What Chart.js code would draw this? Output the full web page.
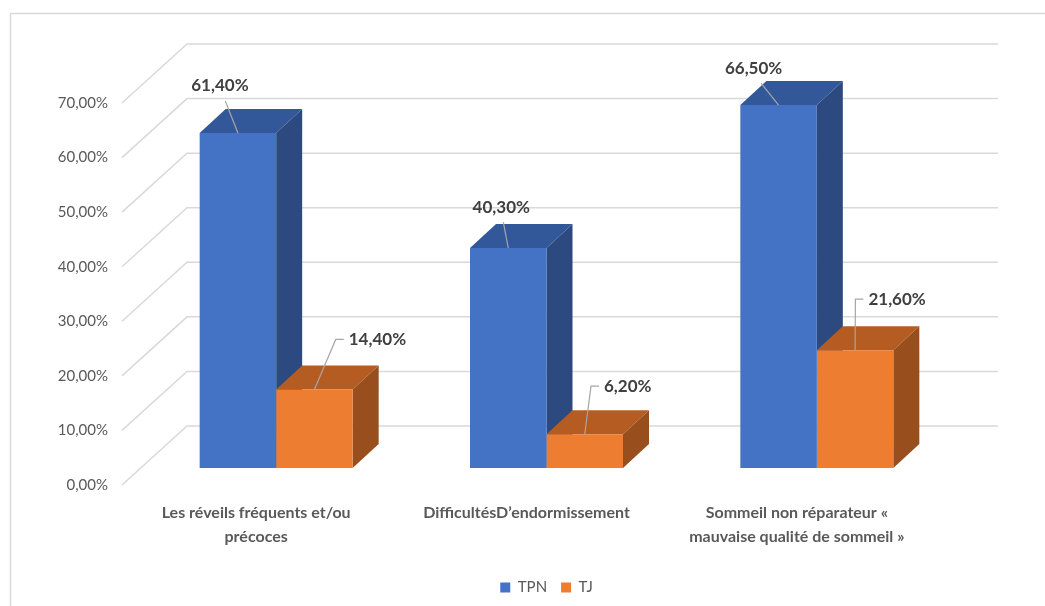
<!DOCTYPE html>
<html>
<head>
<meta charset="utf-8">
<script src="https://cdn.jsdelivr.net/npm/chart.js@4.4.1/dist/chart.umd.min.js"></script>
<style>
  html, body { margin: 0; padding: 0; background: #fff; }
  #wrap { width: 1045px; height: 606px; }
</style>
</head>
<body>
<div id="wrap"><canvas id="chart" width="1045" height="606"></canvas></div>
<script>
// categories and series
var categories = [
  ["Les réveils fréquents et/ou", "précoces"],
  "DifficultésD\u2019endormissement",
  ["Sommeil non réparateur «", "mauvaise qualité de sommeil »"]
];
var seriesNames = ["TPN", "TJ"];
var tpnValues = [61.4, 40.3, 66.5];
var tjValues = [14.4, 6.2, 21.6];
var yMax = 70;
var yStep = 10;

// where each value label sits, relative to the top front edge of its bar
var tpnLabelPos = [[-18, -47], [-7, -41], [-25, -37]];
var tjLabelPos = [[63, -50], [43, -48], [42, -51]];

var FONT = "Lato, 'Open Sans', sans-serif";
var GRID = "#d9d9d9";
var TEXT = "#595959";

// 3d look: bar depth, and the floor/wall depth in front of / behind the bar plane
var BAR_DX = 26, BAR_DY = 24;
var FLOOR_FRONT_DX = 19, FLOOR_FRONT_DY = 17;
var FLOOR_BACK_DX = 46, FLOOR_BACK_DY = 42;

function pct(v) {
  return v.toFixed(2).replace(".", ",") + "%";
}

var boxes3d = {
  id: "boxes3d",
  beforeDraw: function (chart) {
    var ctx = chart.ctx;
    ctx.save();
    ctx.strokeStyle = GRID;
    ctx.lineWidth = 1.5;
    ctx.strokeRect(10.5, 13.5, 1200, 800);
    ctx.restore();
  },
  beforeDatasetsDraw: function (chart) {
    var ctx = chart.ctx;
    var area = chart.chartArea;
    var ys = chart.scales.y;
    // walls: diagonal on the side, horizontal on the back
    ctx.save();
    ctx.strokeStyle = GRID;
    ctx.lineWidth = 1.5;
    ctx.beginPath();
    ys.ticks.forEach(function (t) {
      var p = ys.getPixelForValue(t.value);
      ctx.moveTo(area.left - FLOOR_FRONT_DX, p + FLOOR_FRONT_DY);
      ctx.lineTo(area.left + FLOOR_BACK_DX, p - FLOOR_BACK_DY);
      ctx.lineTo(area.right + FLOOR_BACK_DX, p - FLOOR_BACK_DY);
    });
    ctx.stroke();

    // top and side faces, drawn before the front faces
    chart.data.datasets.forEach(function (ds, di) {
      var meta = chart.getDatasetMeta(di);
      meta.data.forEach(function (el) {
        var l = el.x - el.width / 2, r = el.x + el.width / 2;
        var t = el.y, b = el.base;
        ctx.fillStyle = ds.topColor;
        ctx.beginPath();
        ctx.moveTo(l, t);
        ctx.lineTo(l + BAR_DX, t - BAR_DY);
        ctx.lineTo(r + BAR_DX, t - BAR_DY);
        ctx.lineTo(r, t);
        ctx.closePath();
        ctx.fill();
        ctx.fillStyle = ds.sideColor;
        ctx.beginPath();
        ctx.moveTo(r, t);
        ctx.lineTo(r + BAR_DX, t - BAR_DY);
        ctx.lineTo(r + BAR_DX, b - BAR_DY);
        ctx.lineTo(r, b);
        ctx.closePath();
        ctx.fill();
      });
    });
    ctx.restore();
  },
  afterDatasetsDraw: function (chart) {
    var ctx = chart.ctx;
    ctx.save();
    ctx.font = "bold 17px " + FONT;
    ctx.textAlign = "center";
    ctx.textBaseline = "middle";
    chart.data.datasets.forEach(function (ds, di) {
      var meta = chart.getDatasetMeta(di);
      meta.data.forEach(function (el, i) {
        var text = pct(ds.data[i]);
        var w = ctx.measureText(text).width;
        var ax = el.x, ay = el.y;
        var cx = ax + ds.labelPos[i][0], cy = ay + ds.labelPos[i][1];
        ctx.strokeStyle = "#a6a6a6";
        ctx.lineWidth = 1.2;
        ctx.beginPath();
        var left = cx - w / 2;
        if (left > ax) {
          ctx.moveTo(ax, ay);
          ctx.lineTo(left - 13, cy);
          ctx.lineTo(left - 5, cy);
        } else {
          ctx.moveTo(cx + 0.3 * (ax - cx), cy + 15);
          ctx.lineTo(ax, ay);
        }
        ctx.stroke();
        ctx.fillStyle = "#404040";
        ctx.fillText(text, cx, cy);
      });
    });
    ctx.restore();
  }
};

new Chart(document.getElementById("chart"), {
  type: "bar",
  data: {
    labels: categories,
    datasets: [
      {
        label: seriesNames[0],
        data: tpnValues,
        backgroundColor: "#4472c4",
        topColor: "#33589a",
        sideColor: "#2c4a7f",
        labelPos: tpnLabelPos
      },
      {
        label: seriesNames[1],
        data: tjValues,
        backgroundColor: "#ed7d31",
        topColor: "#b55c22",
        sideColor: "#984e1d",
        labelPos: tjLabelPos
      }
    ]
  },
  options: {
    responsive: false,
    animation: false,
    devicePixelRatio: 1,
    layout: { padding: { left: 10, right: 93, top: 86, bottom: 1 } },
    datasets: { bar: { categoryPercentage: 0.566, barPercentage: 1, borderWidth: 0 } },
    plugins: {
      tooltip: { enabled: false },
      legend: {
        position: "bottom",
        fullSize: false,
        labels: {
          boxWidth: 10,
          boxHeight: 10,
          padding: 14,
          color: TEXT,
          font: { family: FONT, size: 15 }
        }
      }
    },
    scales: {
      x: {
        grid: { display: false, drawTicks: false },
        border: { display: false },
        ticks: {
          autoSkip: false,
          maxRotation: 0,
          padding: 32,
          labelOffset: -20,
          color: TEXT,
          font: { family: FONT, size: 16, weight: "bold", lineHeight: 1.55 }
        },
        afterFit: function (s) { s.height = 98; }
      },
      y: {
        min: 0,
        max: yMax,
        grid: { display: false, drawTicks: false },
        border: { display: false },
        ticks: {
          stepSize: yStep,
          padding: 33,
          labelOffset: FLOOR_FRONT_DY,
          color: TEXT,
          font: { family: FONT, size: 15 },
          callback: function (v) { return pct(v); }
        },
        afterFit: function (s) { s.width = 131; }
      }
    }
  },
  plugins: [boxes3d]
});
</script>
</body>
</html>
